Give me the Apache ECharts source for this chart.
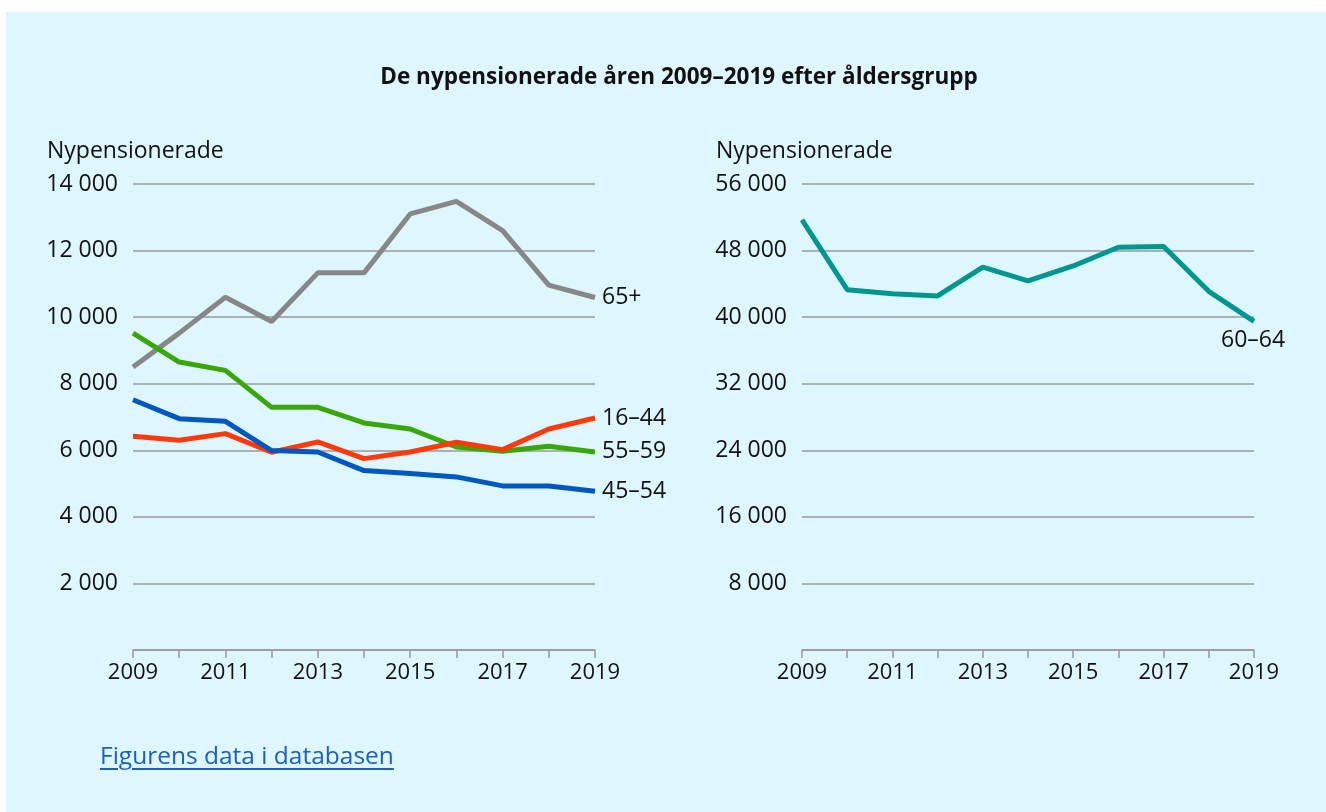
<!DOCTYPE html>
<html>
<head>
<meta charset="utf-8">
<script src="https://cdn.jsdelivr.net/npm/echarts@6/dist/echarts.min.js"></script>
<style>
  html, body { margin: 0; padding: 0; background: #fff; }
  #panel { position: absolute; left: 6px; top: 12px; width: 1320px; height: 800px; background: #def6fd; }
  #chart { position: absolute; left: 0; top: 0; width: 1326px; height: 812px; }
  #link { position: absolute; left: 100px; top: 738px; font: 24.5px "Open Sans", sans-serif; color: #1a60c2; text-decoration: underline; text-underline-offset: 4px; text-decoration-thickness: 1.5px; }
</style>
</head>
<body>
<div id="panel"></div>
<div id="chart"></div>
<a id="link" href="#">Figurens data i databasen</a>
<script>
/* Nypensionerade 2009–2019 efter åldersgrupp */
var years = ['2009','2010','2011','2012','2013','2014','2015','2016','2017','2018','2019'];
var age65 = [8500, 9520, 10600, 9870, 11330, 11330, 13100, 13480, 12600, 10960, 10590];
var age16_44 = [6420, 6300, 6500, 5940, 6250, 5750, 5950, 6240, 6020, 6640, 6970];
var age55_59 = [9520, 8650, 8400, 7290, 7290, 6820, 6640, 6100, 5970, 6120, 5950];
var age45_54 = [7520, 6950, 6870, 5990, 5950, 5390, 5300, 5200, 4930, 4930, 4770];
var age60_64 = [51700, 43300, 42800, 42550, 46000, 44350, 46150, 48400, 48500, 43100, 39500];

(function(){
  var c = echarts.init(document.getElementById('chart'));
  var txt = '#111111';
  var grid = '#9a9a9a';
  var font = '"Open Sans", sans-serif';

  function fmt(v){
    if (v === 0) return '';
    return String(v).replace(/\B(?=(\d{3})+(?!\d))/g, ' ');
  }

  function xAxis(idx){
    return {
      type:'category', gridIndex:idx, data:years, boundaryGap:false,
      axisLine:{lineStyle:{color:grid, width:1.5}},
      axisTick:{show:true, length:8, interval:0, lineStyle:{color:grid, width:1.5}},
      axisLabel:{interval:1, color:txt, fontFamily:font, fontSize:22, margin:12}
    };
  }
  function yAxis(idx, max, interval){
    return {
      type:'value', gridIndex:idx, min:0, max:max, interval:interval,
      name:'Nypensionerade', nameLocation:'end', nameGap:21,
      nameTextStyle:{color:txt, fontFamily:font, fontSize:23, align:'left', padding:[0,0,0,-86]},
      axisLine:{show:false}, axisTick:{show:false},
      axisLabel:{color:txt, fontFamily:font, fontSize:23, margin:15, formatter:fmt},
      splitLine:{lineStyle:{color:grid, width:1.5}}
    };
  }
  function line(name, data, color, idx, labelOffset){
    return {
      name:name, type:'line', data:data, xAxisIndex:idx, yAxisIndex:idx,
      symbol:'none', lineStyle:{color:color, width:5}, itemStyle:{color:color},
      endLabel:{show:true, formatter:name, color:txt, fontFamily:font, fontSize:23,
        distance:7, offset:labelOffset || [0,0]},
      silent:true, animation:false
    };
  }

  c.setOption({
    title:{text:'De nypensionerade åren 2009–2019 efter åldersgrupp', left:674, top:61,
      textAlign:'center',
      textStyle:{color:txt, fontFamily:font, fontSize:22.5, fontWeight:'bold'}},
    grid:[
      {left:133, top:184, width:462, height:466},
      {left:802, top:184, width:452, height:466}
    ],
    xAxis:[xAxis(0), xAxis(1)],
    yAxis:[yAxis(0, 14000, 2000), yAxis(1, 56000, 8000)],
    series:[
      line('65+', age65, '#878787', 0),
      line('55–59', age55_59, '#3aa60a', 0),
      line('16–44', age16_44, '#ff3a0a', 0),
      line('45–54', age45_54, '#0057c2', 0),
      line('60–64', age60_64, '#009690', 1, [-40, 19])
    ]
  });

  window.addEventListener('resize', function(){ c.resize(); });
})();
</script>
</body>
</html>
